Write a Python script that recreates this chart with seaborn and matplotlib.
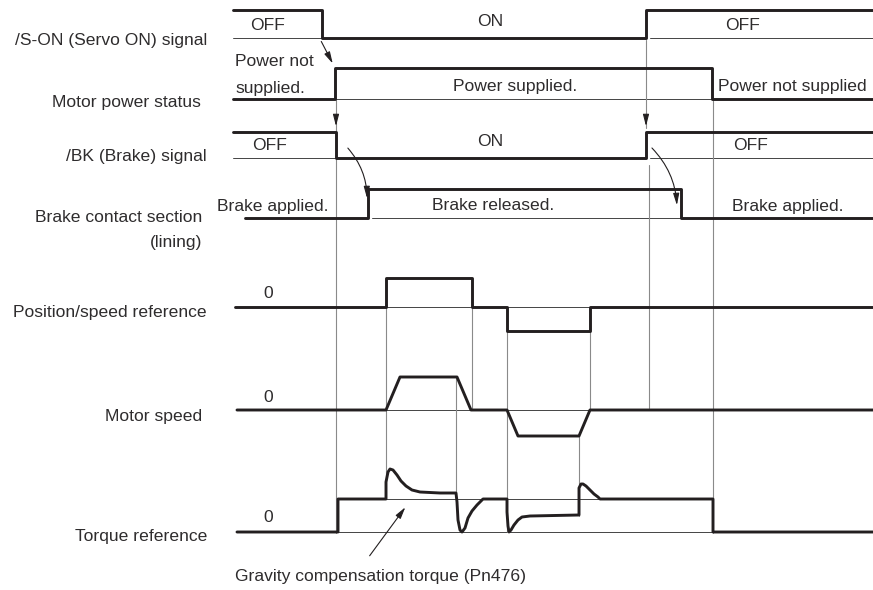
import pandas as pd
import matplotlib.pyplot as plt
import seaborn as sns

# timing diagram: brake sequence with gravity compensation

# signal names, row baselines (y px from top) and left labels
SIGNALS = ["son", "power", "bk", "brake", "ref", "speed", "torque"]
BASELINE = [38, 99, 158, 218, 307, 410, 532]

# waveform breakpoints: time (x) and level (px above row baseline)
SON_T = [233, 322, 322, 646, 646, 873]
SON_V = [28, 28, 0, 0, 28, 28]

POWER_T = [233, 335, 335, 712, 712, 873]
POWER_V = [0, 0, 31, 31, 0, 0]

BK_T = [233, 336, 336, 646, 646, 873]
BK_V = [26, 26, 0, 0, 26, 26]

BRAKE_T = [245, 368, 368, 681, 681, 873]
BRAKE_V = [0, 0, 29, 29, 0, 0]

REF_T = [235, 386, 386, 472, 472, 507, 507, 590, 590, 873]
REF_V = [0, 0, 29, 29, 0, 0, -24, -24, 0, 0]

SPEED_T = [237, 386, 400, 457, 471, 507, 518, 579, 590, 873]
SPEED_V = [0, 0, 33, 33, 0, 0, -26, -26, 0, 0]

TORQUE_T = [237, 338, 338, 386, 386, 388, 390, 393, 397, 401, 406, 412, 420, 440, 456,
            457, 458, 460, 462, 465, 468, 472, 477, 483, 507, 507, 508, 509, 511, 514,
            518, 522, 530, 579, 579, 581, 583, 586, 590, 594, 598, 600, 713, 713, 873]
TORQUE_V = [0, 0, 33, 33, 50, 60, 63, 62, 57, 51, 46, 42, 40, 39, 39,
            30, 12, 2, 0, 4, 14, 21, 27, 33, 33, 20, 6, 0, 2, 7,
            12, 15, 16, 17, 44, 48, 48, 46, 42, 38, 35, 33, 33, 0, 0]

WAVES = {
    "son": (SON_T, SON_V), "power": (POWER_T, POWER_V), "bk": (BK_T, BK_V),
    "brake": (BRAKE_T, BRAKE_V), "ref": (REF_T, REF_V), "speed": (SPEED_T, SPEED_V),
    "torque": (TORQUE_T, TORQUE_V),
}

ROW_LABELS = ["/S-ON (Servo ON) signal", "Motor power status", "/BK (Brake) signal",
              "Brake contact section", "(lining)", "Position/speed reference",
              "Motor speed", "Torque reference"]
ROW_LABEL_Y = [40, 102, 157, 217, 243, 313, 416, 536]
ROW_LABEL_X = [207, 201, 207, 202, 202, 207, 202, 207]

# state texts inside the diagram
STATE_TEXT = ["OFF", "ON", "OFF", "Power supplied.", "Power not supplied",
              "OFF", "ON", "OFF", "Brake applied.", "Brake released.", "Brake applied.",
              "0", "0", "0"]
STATE_X = [268, 490, 743, 515, 718, 270, 490, 751, 273, 493, 788, 268, 268, 268]
STATE_Y = [25, 21, 25, 87, 86, 145, 141, 146, 206, 205, 206, 294, 397, 517]
STATE_HA = ["center", "center", "center", "center", "left", "center", "center",
            "center", "center", "center", "center", "center", "center", "center"]

# thin guide lines
VGUIDES = [(336, 100, 533), (646, 40, 128), (386, 307, 499), (456, 377, 492),
           (472, 307, 410), (507, 307, 532), (590, 307, 410), (579, 436, 516),
           (649, 165, 408), (713, 100, 533)]
HGUIDES = [(38, 233, 322), (38, 650, 873), (99, 335, 712), (158, 233, 336),
           (158, 650, 873), (218, 372, 681), (307, 386, 590), (410, 386, 590),
           (499, 386, 600), (532, 338, 713)]

INK = "#231f20"
TXT = "#2e2c2d"

rows = []
for name, base in zip(SIGNALS, BASELINE):
    t, v = WAVES[name]
    for ti, vi in zip(t, v):
        rows.append({"signal": name, "t": ti, "y": base - vi})
df = pd.DataFrame(rows)

sns.set_style("white")
plt.rcParams["font.family"] = ["Liberation Sans", "DejaVu Sans"]

fig = plt.figure(figsize=(8.73, 5.90), dpi=100)
ax = fig.add_axes([0, 0, 1, 1])

for y, x0, x1 in HGUIDES:
    ax.plot([x0, x1], [y, y], color="#444444", lw=0.7, zorder=1)
for x, y0, y1 in VGUIDES:
    ax.plot([x, x], [y0, y1], color="#8a8a8a", lw=0.8, zorder=1)

sns.lineplot(data=df, x="t", y="y", units="signal", estimator=None, sort=False,
             color=INK, lw=2.1, ax=ax, zorder=3, legend=False)

fs = 12.6
for txt, x, y in zip(ROW_LABELS, ROW_LABEL_X, ROW_LABEL_Y):
    ax.text(x, y, txt, ha="right", va="center", fontsize=fs, color=TXT)
for txt, x, y, ha in zip(STATE_TEXT, STATE_X, STATE_Y, STATE_HA):
    ax.text(x, y, txt, ha=ha, va="center", fontsize=fs, color=TXT)
ax.text(235, 62, "Power not", ha="left", va="center", fontsize=fs, color=TXT)
ax.text(235, 88, "supplied.", ha="left", va="center", fontsize=fs, color=TXT)
ax.text(381, 576, "Gravity compensation torque (Pn476)", ha="center", va="center",
        fontsize=fs, color=TXT)

# arrows
head = dict(arrowstyle="-|>,head_length=0.7,head_width=0.18", color=INK, lw=0.8)
ax.annotate("", xy=(334, 66), xytext=(320, 39), arrowprops=head)
ax.annotate("", xy=(336, 129), xytext=(336, 118), arrowprops=head)
ax.annotate("", xy=(646, 129), xytext=(646, 118), arrowprops=head)
ax.annotate("", xy=(367, 201), xytext=(346, 146),
            arrowprops=dict(head, connectionstyle="arc3,rad=-0.2"))
ax.annotate("", xy=(677, 208), xytext=(650, 146),
            arrowprops=dict(head, connectionstyle="arc3,rad=-0.2"))
ax.annotate("", xy=(407, 505), xytext=(368, 558), arrowprops=head)

ax.set_xlim(0, 873)
ax.set_ylim(590, 0)
ax.axis("off")

plt.savefig("out.png", dpi=100)
